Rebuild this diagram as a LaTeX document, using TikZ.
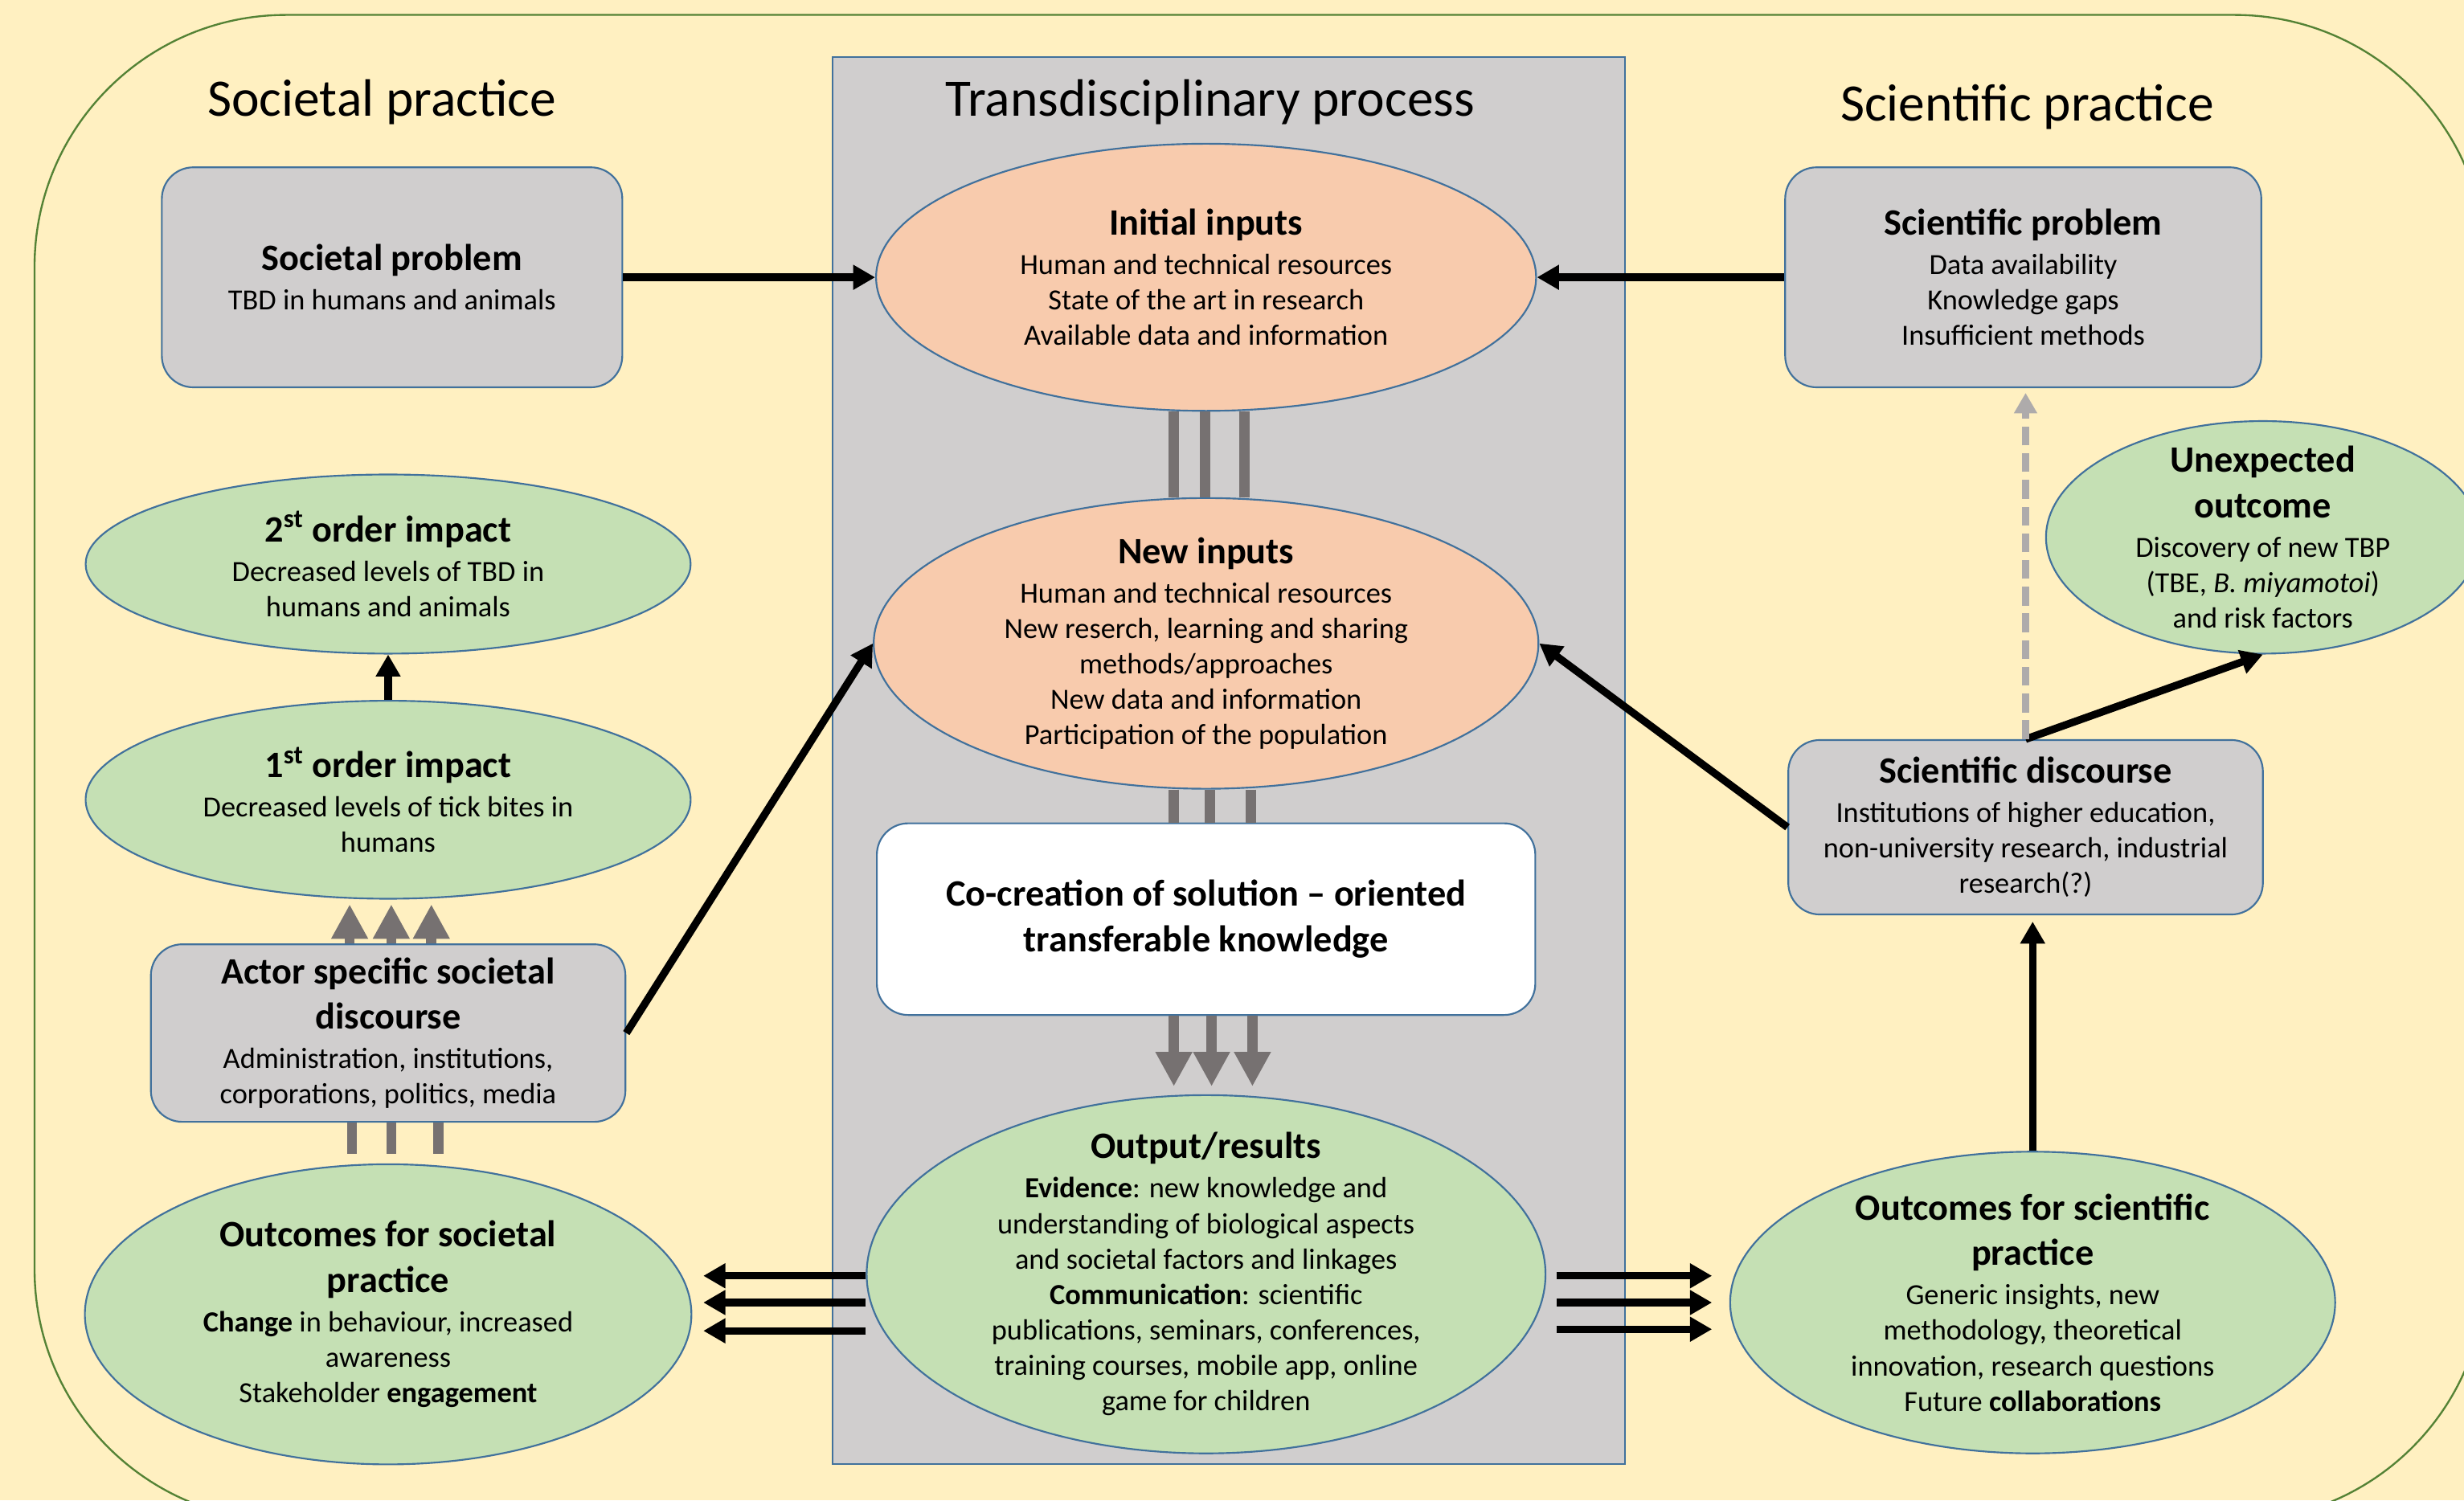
\documentclass[tikz,border=0pt]{standalone}
\usepackage{fontspec}
\setmainfont{Carlito}
\usetikzlibrary{arrows.meta,shapes.geometric}

\definecolor{cream}{RGB}{255,240,193}
\definecolor{framegreen}{RGB}{84,130,53}
\definecolor{boxgray}{RGB}{208,206,206}
\definecolor{boxline}{RGB}{65,113,156}
\definecolor{peach}{RGB}{248,203,173}
\definecolor{leaf}{RGB}{197,224,180}
\definecolor{pipe}{RGB}{118,113,113}
\definecolor{dashgray}{RGB}{174,171,171}

\newcommand{\hd}[1]{{\fontsize{23.7}{28}\selectfont\bfseries #1}}

\begin{document}
\begin{tikzpicture}[x=1pt,y=-1pt,>={Triangle[length=14pt,width=15pt]},
    every node/.style={font=\fontsize{18.6}{22.6}\selectfont,align=center},
    heading/.style={font=\fontsize{33.5}{40}\selectfont,anchor=base},
    gray box/.style={rectangle,rounded corners=20pt,draw=boxline,line width=1.1pt,fill=boxgray,inner sep=2pt},
    white box/.style={gray box,fill=white},
    input node/.style={ellipse,draw=boxline,line width=1.1pt,fill=peach,inner sep=-300pt},
    impact node/.style={input node,fill=leaf},
    conn/.style={->,line width=4.8pt},
    pipe line/.style={draw=pipe,line width=6.5pt},
    pipe arrow/.style={pipe line,-{Triangle[length=22pt,width=22pt]}},
    dash arrow/.style={->,draw=dashgray,line width=5pt,dash pattern=on 12pt off 5pt,>={Triangle[length=13pt,width=14pt]}}]

  % page, outer frame and middle panel
  \useasboundingbox (0,0) rectangle (1568,955);
  \clip (0,0) rectangle (1568,955);
  \fill[cream] (0,0) rectangle (1568,955);
  \draw[framegreen,line width=1.2pt,rounded corners=160pt] (22,9.5) rectangle (1582,968);
  \draw[boxline,fill=boxgray,line width=1.1pt] (530,36.5) rectangle (1034,932);

  \node[heading] (soc)   at (243,74)  {Societal practice};
  \node[heading] (trans) at (770,74)  {Transdisciplinary process};
  \node[heading] (sci)   at (1290,77) {Scientific practice};

  % top row
  \node[gray box, minimum width=293pt, minimum height=140pt] (socprob) at (249.5,176.5)
    {\hd{Societal problem}\\[2.4pt] TBD in humans and animals};
  \node[input node, minimum width=420pt, minimum height=170pt] (init) at (767.5,176.5)
    {\hd{Initial inputs}\\[2.4pt] Human and technical resources\\ State of the art in research\\ Available data and information};
  \node[gray box, minimum width=303pt, minimum height=140pt] (sciprob) at (1287.5,176.5)
    {\hd{Scientific problem}\\[2.4pt] Data availability\\ Knowledge gaps\\ Insufficient methods};

  % middle column
  \node[input node, minimum width=423pt, minimum height=185pt] (new) [below of=init, node distance=233pt]
    {\hd{New inputs}\\[2.4pt] Human and technical resources\\ New reserch, learning and sharing\\ methods/approaches\\ New data and information\\ Participation of the population};
  \node[white box, minimum width=419pt, minimum height=122pt] (cocreate) [below of=new, node distance=175.5pt]
    {\hd{Co-creation of solution – oriented}\\[6.4pt]\hd{transferable knowledge}};
  \node[impact node, minimum width=432pt, minimum height=228pt] (output) [below of=cocreate, node distance=226pt]
    {\hd{Output/results}\\[2.4pt] \textbf{Evidence}: new knowledge and\\ understanding of biological aspects\\ and societal factors and linkages\\ \textbf{Communication}: scientific\\ publications, seminars, conferences,\\ training courses, mobile app, online\\ game for children};

  % left column
  \node[impact node, minimum width=385pt, minimum height=114pt] (ord2) at (247,359)
    {\hd{2\textsuperscript{st} order impact}\\[2.4pt] Decreased levels of TBD in\\ humans and animals};
  \node[impact node, minimum width=385pt, minimum height=126pt] (ord1) [below of=ord2, node distance=150pt]
    {\hd{1\textsuperscript{st} order impact}\\[2.4pt] Decreased levels of tick bites in\\ humans};
  \node[gray box, minimum width=302pt, minimum height=113pt] (actor) [below of=ord1, node distance=148.5pt]
    {\hd{Actor specific societal}\\[6.4pt]\hd{discourse}\\[2.4pt] Administration, institutions,\\ corporations, politics, media};
  \node[impact node, minimum width=386pt, minimum height=191pt] (outsoc) [below of=actor, node distance=179pt]
    {\hd{Outcomes for societal}\\[6.4pt]\hd{practice}\\[2.4pt] \textbf{Change} in behaviour, increased\\ awareness\\ Stakeholder \textbf{engagement}};

  % right column
  \node[impact node, minimum width=276pt, minimum height=148pt] (unexp) at (1440,342)
    {\hd{Unexpected}\\[6.4pt]\hd{outcome}\\[2.4pt] Discovery of new TBP\\ (TBE, \textit{B. miyamotoi})\\ and risk factors};
  \node[gray box, minimum width=302pt, minimum height=111pt] (scidisc) at (1289,526.5)
    {\hd{Scientific discourse}\\[2.4pt] Institutions of higher education,\\ non-university research, industrial\\ research(?)};
  \node[impact node, minimum width=385pt, minimum height=192pt] (outsci) at (1293.5,829)
    {\hd{Outcomes for scientific}\\[6.4pt]\hd{practice}\\[2.4pt] Generic insights, new\\ methodology, theoretical\\ innovation, research questions\\ Future \textbf{collaborations}};

  % grey pipes
  \draw[pipe line] ([xshift=-20.5pt]init.south) -- ([xshift=-20.5pt]new.north);
  \draw[pipe line] ([xshift=-0.5pt]init.south)  -- ([xshift=-0.5pt]new.north);
  \draw[pipe line] ([xshift=24.5pt]init.south)  -- ([xshift=24.5pt]new.north);
  \draw[pipe line] ([xshift=-20.5pt]new.south) -- ([xshift=-20.5pt]cocreate.north);
  \draw[pipe line] ([xshift=2.5pt]new.south)   -- ([xshift=2.5pt]cocreate.north);
  \draw[pipe line] ([xshift=28.5pt]new.south)  -- ([xshift=28.5pt]cocreate.north);
  \draw[pipe arrow,shorten >=5pt] ([xshift=-20.5pt]cocreate.south) -- ([xshift=-20.5pt]output.north);
  \draw[pipe arrow,shorten >=5pt] ([xshift=3.5pt]cocreate.south)   -- ([xshift=3.5pt]output.north);
  \draw[pipe arrow,shorten >=5pt] ([xshift=29.5pt]cocreate.south)  -- ([xshift=29.5pt]output.north);
  \draw[pipe arrow,shorten >=3pt] ([xshift=-24.5pt]actor.north) -- ([xshift=-24.5pt]ord1.south);
  \draw[pipe arrow,shorten >=3pt] ([xshift=2pt]actor.north)     -- ([xshift=2pt]ord1.south);
  \draw[pipe arrow,shorten >=3pt] ([xshift=27.5pt]actor.north)  -- ([xshift=27.5pt]ord1.south);
  \draw[pipe line,shorten >=6pt] ([xshift=-23pt]actor.south) -- ([xshift=-23pt]outsoc.north);
  \draw[pipe line,shorten >=6pt] ([xshift=2pt]actor.south)   -- ([xshift=2pt]outsoc.north);
  \draw[pipe line,shorten >=6pt] ([xshift=32pt]actor.south)  -- ([xshift=32pt]outsoc.north);

  % ends of the triple arrows
  \coordinate (ol1) at ([yshift=-1pt]output.west);
  \coordinate (ol2) at ([yshift=-18pt]output.west);
  \coordinate (ol3) at ([yshift=-36pt]output.west);
  \coordinate (or1) at ([yshift=-1pt]output.east);
  \coordinate (or2) at ([yshift=-18pt]output.east);
  \coordinate (or3) at ([yshift=-35pt]output.east);

  \path[conn]
    (socprob.east) edge (init.west)
    (sciprob.west) edge (init.east)
    (ord1.north) edge (ord2.south)
    (actor.east) edge (new.west)
    (scidisc.west) edge (new.east)
    (scidisc.north) edge (unexp.south)
    (outsci.north) edge [shorten >=4pt] (outsci.north |- scidisc.south)
    (ol1) edge [shorten >=7pt] (ol1 -| outsoc.east)
    (ol2) edge [shorten >=7pt] (ol2 -| outsoc.east)
    (ol3) edge [shorten >=7pt] (ol3 -| outsoc.east)
    (or1) edge [shorten <=6.5pt,shorten >=11pt] (or1 -| outsci.west)
    (or2) edge [shorten <=6.5pt,shorten >=11pt] (or2 -| outsci.west)
    (or3) edge [shorten <=6.5pt,shorten >=11pt] (or3 -| outsci.west);
  \draw[dash arrow,shorten >=3pt] (scidisc.north) -- (scidisc.north |- sciprob.south);
\end{tikzpicture}
\end{document}
